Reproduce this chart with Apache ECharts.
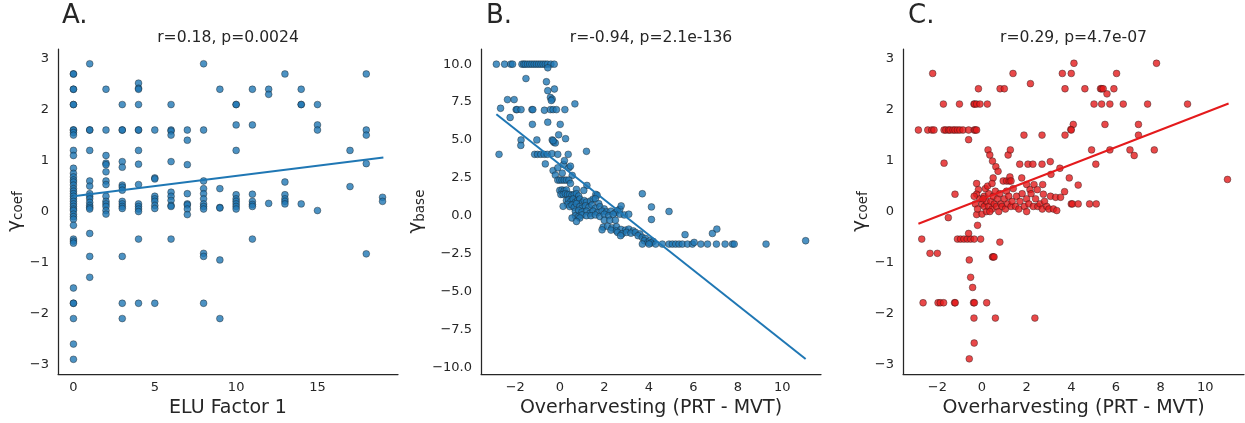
<!DOCTYPE html>
<html lang="en">
<head>
    <meta charset="utf-8">
    <title>Overharvesting scatter panels</title>
    <script src="https://cdn.jsdelivr.net/npm/echarts@6/dist/echarts.min.js"></script>
    <style>
        html, body, #main {
            width: 100%;
            height: 100%;
            margin: 0;
            padding: 0;
            overflow: hidden;
            background-color: #ffffff;
        }
    </style>
</head>
<body>
    <div id="main"></div>
    <script>
        // panel A: ELU factor 1 vs gamma_coef
        var pointsA = [
            [0, 2.7], [0, 2.7], [0, 2.4], [0, 2.4], [0, 2.1], [0, 2.1], [0, 1.6], [0, 1.6], [0, 1.55], [0, 1.5],
            [0, 1.2], [0, 1.1], [0, 0.85], [0, 0.75], [0, 0.68], [0, 0.62], [0, 0.58], [0, 0.52], [0, 0.45], [0, 0.4],
            [0, 0.35], [0, 0.3], [0, 0.25], [0, 0.2], [0, 0.15], [0, 0.1], [0, 0.05], [0, 0.02], [0, -0.05], [0, -0.1],
            [0, -0.15], [0, -0.27], [0, -0.54], [0, -0.58], [0, -0.62], [0, -1.5], [0, -1.8], [0, -1.8], [0, -2.1], [0, -2.6], [0, -2.9],
            [1, 2.9], [1, 1.6], [1, 1.6], [1, 1.2], [1, 0.6], [1, 0.5], [1, 0.35], [1, 0.3], [1, 0.25], [1, 0.18],
            [1, 0.12], [1, 0.08], [1, 0.05], [1, -0.43], [1, -0.88], [1, -1.29],
            [2, 2.4], [2, 1.6], [2, 1.1], [2, 0.95], [2, 0.92], [2, 0.78], [2, 0.6], [2, 0.53], [2, 0.3], [2, 0.2],
            [2, 0.15], [2, 0.1], [2, 0.02], [2, -0.05],
            [3, 2.1], [3, 1.6], [3, 1.6], [3, 0.98], [3, 0.87], [3, 0.52], [3, 0.48], [3, 0.42], [3, 0.2], [3, 0.15],
            [3, 0.1], [3, 0.06], [3, -0.88], [3, -1.8], [3, -2.1],
            [4, 2.52], [4, 2.42], [4, 2.4], [4, 2.1], [4, 1.6], [4, 1.6], [4, 1.2], [4, 0.93], [4, 0.53], [4, 0.15],
            [4, 0.1], [4, 0.05], [4, 0.0], [4, -0.54], [4, -1.8],
            [5, 1.6], [5, 0.66], [5, 0.64], [5, 0.3], [5, 0.25], [5, 0.2], [5, 0.12], [5, 0.06], [5, -1.8],
            [6, 2.1], [6, 1.6], [6, 1.58], [6, 1.5], [6, 0.98], [6, 0.38], [6, 0.3], [6, 0.22], [6, 0.12], [6, 0.1], [6, -0.54],
            [7, 1.6], [7, 1.4], [7, 0.92], [7, 0.35], [7, 0.15], [7, 0.13], [7, 0.05], [7, -0.06],
            [8, 2.9], [8, 1.6], [8, 0.6], [8, 0.45], [8, 0.35], [8, 0.25], [8, 0.15], [8, 0.1], [8, 0.05], [8, -0.82],
            [8, -0.88], [8, -1.8],
            [9, 2.4], [9, 0.45], [9, 0.08], [9, 0.07], [9, -0.95], [9, -2.1],
            [10, 2.1], [10, 2.1], [10, 1.7], [10, 1.2], [10, 0.33], [10, 0.25], [10, 0.2], [10, 0.15], [10, 0.1], [10, 0.05],
            [11, 2.4], [11, 1.7], [11, 0.34], [11, 0.2], [11, 0.14], [11, 0.1], [11, -0.54],
            [12, 2.4], [12, 2.3], [12, 0.16],
            [13, 2.7], [13, 0.58], [13, 0.33], [13, 0.25], [13, 0.2], [13, 0.15],
            [14, 2.4], [14, 2.1], [14, 2.1], [14, 0.15],
            [15, 2.1], [15, 1.7], [15, 1.6], [15, 0.02],
            [17, 1.2], [17, 0.49],
            [18, 2.7], [18, 1.6], [18, 1.5], [18, 0.94], [18, -0.83],
            [19, 0.28], [19, 0.2]
        ];
        var fitA = [[0, 0.3], [19.05, 1.06]];

        // panel B: overharvesting vs gamma_base
        var pointsB = [
            [-2.85, 10], [-2.48, 10], [-2.2, 10], [-2.12, 10], [-1.7, 10], [-1.62, 10], [-1.55, 10], [-1.45, 10], [-1.35, 10],
            [-1.25, 10], [-1.15, 10], [-1.05, 10], [-0.95, 10], [-0.85, 10], [-0.75, 10], [-0.65, 10], [-0.55, 10], [-0.4, 10], [-0.25, 10],
            [-0.54, 9.76], [-1.52, 9.05], [-0.6, 8.84], [-0.24, 8.36], [-0.54, 8.25], [-0.42, 7.8], [-0.34, 7.69], [-0.38, 7.6],
            [-2.35, 7.66], [-2.05, 7.66],
            [-2.66, 7.09], [-1.96, 7.0], [-1.92, 7.0], [-1.74, 7.0], [-1.25, 7.0], [-1.21, 7.0], [-0.69, 6.96], [-0.42, 7.0],
            [-0.3, 7.0], [-0.15, 7.0], [0.23, 7.0], [0.68, 7.38],
            [-2.23, 6.48], [-1.23, 6.03], [-0.54, 6.17], [0.02, 6.03],
            [-1.74, 5.0], [-1.75, 4.64], [-1.03, 5.0], [-0.34, 5.0], [-0.27, 4.85], [-0.2, 4.8], [-0.05, 5.34], [0.26, 5.08], [-0.3, 4.95],
            [-2.73, 4.05], [-1.13, 4.05], [-1.0, 4.05], [-0.85, 4.05], [-0.7, 4.05], [-0.56, 4.05], [-0.35, 4.1], [-0.09, 4.05],
            [0.38, 4.05], [1.2, 4.25],
            [-0.65, 3.42], [-0.3, 2.98], [-0.09, 3.16], [0.17, 3.38], [0.41, 3.16], [-0.2, 2.68], [0.11, 2.81], [0.56, 2.66],
            [0.21, 3.64], [0.48, 3.27],
            [-0.09, 2.35], [0.0, 2.35], [0.1, 2.35], [0.2, 2.35], [0.3, 2.35], [0.41, 2.35],
            [0.48, 2.13], [1.22, 2.0], [0.75, 1.74], [1.08, 1.67],
            [0.0, 1.67], [0.1, 1.7], [0.2, 1.65], [0.3, 1.7],
            [0.05, 1.4], [0.15, 1.4], [0.25, 1.45], [0.35, 1.4], [0.45, 1.4], [0.55, 1.35], [0.65, 1.4], [0.75, 1.45], [0.85, 1.3],
            [1.62, 1.41], [1.68, 1.35],
            [0.3, 1.0], [0.4, 1.05], [0.5, 0.95], [0.6, 1.1], [0.7, 0.9], [0.8, 1.0], [0.9, 1.1], [1.0, 0.85], [1.1, 1.0], [1.2, 0.9],
            [1.38, 0.97], [1.5, 1.1], [1.6, 1.12], [1.75, 0.8],
            [0.35, 0.75], [0.45, 0.6], [0.55, 0.7], [0.65, 0.55], [0.75, 0.8], [0.9, 0.6], [1.0, 0.5], [1.15, 0.65], [1.3, 0.55],
            [1.45, 0.7], [1.6, 0.5], [1.8, 0.6], [2.0, 0.45], [0.15, 0.62],
            [0.7, 0.3], [0.85, 0.35], [1.0, 0.25], [1.2, 0.3], [1.35, 0.15], [1.5, 0.3], [1.7, 0.2], [1.9, 0.3], [2.1, 0.25],
            [2.3, 0.3], [2.5, 0.2], [2.6, 0.35],
            [0.7, 0.0], [0.85, -0.05], [1.0, 0.05], [1.2, 0.0], [1.4, 0.0], [1.6, 0.05], [1.8, -0.05], [2.0, 0.1], [2.2, 0.0],
            [2.4, 0.1], [2.7, 0.1], [2.9, 0.05], [3.1, 0.1],
            [0.55, -0.15], [0.9, -0.15], [0.75, -0.38], [2.0, -0.3], [2.25, -0.3], [2.5, -0.3], [2.7, 0.43], [2.76, 0.65],
            [1.95, -0.75], [2.15, -0.7], [2.35, -0.8], [2.55, -0.72], [1.9, -0.93], [2.3, -0.95], [2.55, -1.0], [2.75, -0.9],
            [2.95, -0.95], [3.1, -0.88], [3.3, -1.0],
            [2.6, -1.1], [2.8, -1.2], [3.0, -1.1], [3.2, -1.15], [3.4, -1.1], [3.6, -1.2], [2.73, -1.32], [3.52, -1.32],
            [3.71, -1.43], [3.85, -1.5],
            [3.8, -1.65], [3.96, -1.76], [4.05, -1.65], [4.2, -1.7], [4.1, -1.8],
            [3.71, -1.87], [4.01, -1.87], [4.31, -1.87], [4.61, -1.87], [4.91, -1.87], [5.06, -1.87], [5.21, -1.87], [5.36, -1.87],
            [5.51, -1.87], [5.74, -1.87], [5.96, -1.87], [6.04, -1.76], [6.34, -1.87], [6.64, -1.87], [7.04, -1.87], [7.43, -1.87],
            [7.76, -1.87], [7.84, -1.87], [9.27, -1.87], [11.05, -1.65],
            [3.71, 1.45], [4.12, 0.58], [4.12, -0.25], [4.91, 0.28], [5.63, -1.25], [6.86, -1.17], [7.06, -0.88]
        ];
        var fitB = [[-2.85, 6.7], [11.05, -9.45]];

        // panel C: overharvesting vs gamma_coef
        var pointsC = [
            [-2.85, 1.6], [-2.43, 1.6], [-2.25, 1.6], [-2.15, 1.6], [-1.7, 1.6], [-1.62, 1.6], [-1.5, 1.6], [-1.43, 1.6], [-1.3, 1.6],
            [-1.21, 1.6], [-1.1, 1.6], [-0.99, 1.6], [-0.85, 1.6], [-0.6, 1.6], [-0.35, 1.6], [-0.3, 1.6], [-0.24, 1.6],
            [-2.21, 2.71], [-1.73, 2.11], [-1.01, 2.11], [-0.36, 2.11], [-0.33, 2.11], [-0.24, 2.11], [-0.09, 2.11], [0.24, 2.11],
            [-0.16, 2.41], [0.81, 2.41], [1.0, 2.41], [1.39, 2.71], [2.17, 2.51], [-0.6, 1.41], [-1.7, 0.95], [-1.21, 0.34],
            [-1.51, -0.12], [-2.7, -0.54], [-2.33, -0.82], [-2.0, -0.82],
            [-2.64, -1.79], [-1.97, -1.79], [-1.87, -1.79], [-1.72, -1.79], [-1.23, -1.79], [-1.2, -1.79], [-0.38, -1.79],
            [-0.34, -1.79], [0.21, -1.79],
            [-0.57, -0.95], [-0.51, -1.29], [-0.42, -1.49], [-0.36, -2.09], [-0.35, -2.58], [-0.57, -2.89], [0.6, -2.09], [2.37, -2.09],
            [-1.1, -0.54], [-0.96, -0.54], [-0.81, -0.54], [-0.66, -0.54], [-0.51, -0.54], [-0.35, -0.54], [-0.06, -0.54],
            [-0.6, -0.43], [-0.2, -0.27], [-0.24, -0.06], [0.8, -0.6], [0.47, -0.89], [0.5, -0.89], [0.54, -0.89],
            [0.27, 1.21], [0.35, 1.11], [0.47, 0.99], [0.62, 0.88], [0.72, 0.79], [1.17, 1.11], [1.27, 1.21],
            [1.69, 0.93], [2.06, 0.93], [2.28, 0.93], [2.69, 0.93], [3.06, 0.98], [1.88, 1.5], [2.69, 1.5],
            [4.12, 2.91], [7.82, 2.91], [3.6, 2.71], [4.0, 2.71], [6.03, 2.71], [3.72, 2.41], [4.61, 2.41], [5.31, 2.41], [5.36, 2.41],
            [5.43, 2.41], [5.91, 2.41], [5.6, 2.31], [5.02, 2.11], [5.36, 2.11], [5.73, 2.11], [6.33, 2.11], [7.42, 2.11], [9.21, 2.11],
            [4.09, 1.71], [3.98, 1.61], [4.0, 1.6], [7.01, 1.71], [5.51, 1.71], [3.72, 1.5], [7.01, 1.5],
            [4.91, 1.21], [5.73, 1.21], [6.63, 1.21], [6.82, 1.1], [7.72, 1.21], [5.1, 0.93], [3.09, 0.73], [3.49, 0.85],
            [3.91, 0.66], [4.31, 0.52], [11.0, 0.63],
            [0.5, 0.66], [0.95, 0.6], [1.1, 0.6], [1.22, 0.6], [1.25, 0.68], [1.78, 0.66], [2.0, 0.53], [2.33, 0.53], [2.48, 0.43],
            [2.72, 0.53], [2.15, 0.43],
            [-0.24, 0.55], [-0.16, 0.43], [-0.24, 0.34], [2.75, 0.34], [3.07, 0.3], [3.3, 0.28], [3.52, 0.28], [3.7, 0.39],
            [4.0, 0.15], [4.05, 0.15], [4.31, 0.15], [4.82, 0.15], [5.12, 0.15],
            [-0.3, 0.15], [-0.2, 0.05], [-0.1, 0.25], [0.0, 0.15], [0.0, -0.05], [0.1, 0.3], [0.1, 0.1], [0.2, 0.2], [0.2, 0.0],
            [0.3, 0.35], [0.3, 0.1], [0.4, 0.2], [0.45, 0.05], [0.5, 0.3], [0.55, 0.15], [0.6, 0.4], [0.65, 0.1], [0.7, 0.25],
            [0.75, 0.0], [0.8, 0.35], [0.85, 0.15], [0.9, 0.1], [1.0, 0.25], [1.05, 0.05], [1.1, 0.4], [1.15, 0.15], [1.2, 0.3],
            [1.3, 0.1], [1.35, 0.2], [1.4, 0.45], [1.5, 0.1], [1.55, 0.3], [1.65, 0.05], [1.7, 0.2], [1.8, 0.35], [1.9, 0.1],
            [2.0, 0.25], [2.0, 0.0], [2.1, 0.15], [2.2, 0.35], [2.3, 0.1], [2.4, 0.25], [2.5, 0.1], [2.6, 0.15], [2.7, 0.05],
            [2.8, 0.2], [2.9, 0.1], [3.0, 0.05], [3.2, 0.05], [3.35, 0.02],
            [0.05, 0.25], [0.15, 0.45], [0.35, 0.0], [-0.35, 0.3], [0.25, 0.5], [0.45, 0.55], [1.3, 0.6]
        ];
        var fitC = [[-2.85, -0.24], [11.05, 2.12]];

        // tick labels
        var ticksAx = [0, 5, 10, 15];
        var ticksCoefY = [-3, -2, -1, 0, 1, 2, 3];
        var ticksOverX = [-2, 0, 2, 4, 6, 8, 10];
        var ticksBaseY = [-10, -7.5, -5, -2.5, 0, 2.5, 5, 7.5, 10];

        var titles = ['r=0.18, p=0.0024', 'r=-0.94, p=2.1e-136', 'r=0.29, p=4.7e-07'];
        var letters = ['A.', 'B.', 'C.'];

        var FONT = 'DejaVu Sans';
        var INK = '#262626';
        var BLUE = '#1f77b4';
        var RED = '#e41a1c';

        function minus(s) {
            return String(s).replace('-', '\u2212');
        }

        function xAxis(idx, min, max, ticks, name) {
            return {
                type: 'value', gridIndex: idx, min: min, max: max,
                axisLine: { onZero: false, lineStyle: { color: INK, width: 1.25 } },
                axisTick: { show: false },
                splitLine: { show: false },
                axisLabel: {
                    customValues: ticks, color: INK, fontSize: 13, fontFamily: FONT, margin: 7,
                    formatter: function (v) { return minus(v); }
                },
                name: name, nameLocation: 'middle', nameGap: 21,
                nameTextStyle: { color: INK, fontSize: 19, fontFamily: FONT }
            };
        }

        function yAxis(idx, min, max, ticks, sub, gap, digits) {
            return {
                type: 'value', gridIndex: idx, min: min, max: max,
                axisLine: { onZero: false, lineStyle: { color: INK, width: 1.25 } },
                axisTick: { show: false },
                splitLine: { show: false },
                axisLabel: {
                    customValues: ticks, color: INK, fontSize: 13, fontFamily: FONT, margin: 9,
                    formatter: function (v) { return minus(digits ? v.toFixed(digits) : v); }
                },
                name: '{g|\u03b3}{s|' + sub + '}', nameLocation: 'middle', nameGap: gap, nameRotate: 90,
                nameTextStyle: {
                    color: INK, fontFamily: FONT,
                    rich: {
                        g: { fontSize: 20, fontFamily: FONT, color: INK },
                        s: { fontSize: 13.5, fontFamily: FONT, color: INK, padding: [8, 0, 0, 0] }
                    }
                }
            };
        }

        function scatter(idx, data, color) {
            return {
                type: 'scatter', xAxisIndex: idx, yAxisIndex: idx, data: data, symbolSize: 6.8, z: 2,
                itemStyle: { color: color, opacity: 0.8, borderColor: '#1a1a1a', borderWidth: 0.5 }
            };
        }

        function fitLine(idx, data, color) {
            return {
                type: 'line', xAxisIndex: idx, yAxisIndex: idx, data: data, symbol: 'none', z: 3,
                lineStyle: { color: color, width: 2 }
            };
        }

        var centers = [228, 651, 1073.5];
        var letterX = [62, 486, 908];
        var graphics = [];
        for (var i = 0; i < 3; i++) {
            graphics.push({
                type: 'text', x: centers[i], y: 38,
                style: { text: titles[i], fontSize: 15.6, fontFamily: FONT, fill: INK, align: 'center', verticalAlign: 'middle' }
            });
            graphics.push({
                type: 'text', x: letterX[i], y: 16,
                style: { text: letters[i], fontSize: 26, fontFamily: FONT, fill: INK, align: 'left', verticalAlign: 'middle' }
            });
        }

        var chart = echarts.init(document.getElementById('main'));
        chart.setOption({
            animation: false,
            backgroundColor: '#ffffff',
            grid: [
                { left: 58, top: 49, width: 340, height: 328 },
                { left: 481, top: 49, width: 340, height: 328 },
                { left: 903, top: 49, width: 341, height: 328 }
            ],
            xAxis: [
                xAxis(0, -0.95, 19.95, ticksAx, 'ELU Factor 1'),
                xAxis(1, -3.54, 11.74, ticksOverX, 'Overharvesting (PRT - MVT)'),
                xAxis(2, -3.54, 11.74, ticksOverX, 'Overharvesting (PRT - MVT)')
            ],
            yAxis: [
                yAxis(0, -3.19, 3.19, ticksCoefY, 'coef', 30, 0),
                yAxis(1, -10.45, 11.0, ticksBaseY, 'base', 54, 1),
                yAxis(2, -3.19, 3.19, ticksCoefY, 'coef', 30, 0)
            ],
            graphic: graphics,
            series: [
                scatter(0, pointsA, BLUE), fitLine(0, fitA, BLUE),
                scatter(1, pointsB, BLUE), fitLine(1, fitB, BLUE),
                scatter(2, pointsC, RED), fitLine(2, fitC, RED)
            ]
        });
    </script>
</body>
</html>
